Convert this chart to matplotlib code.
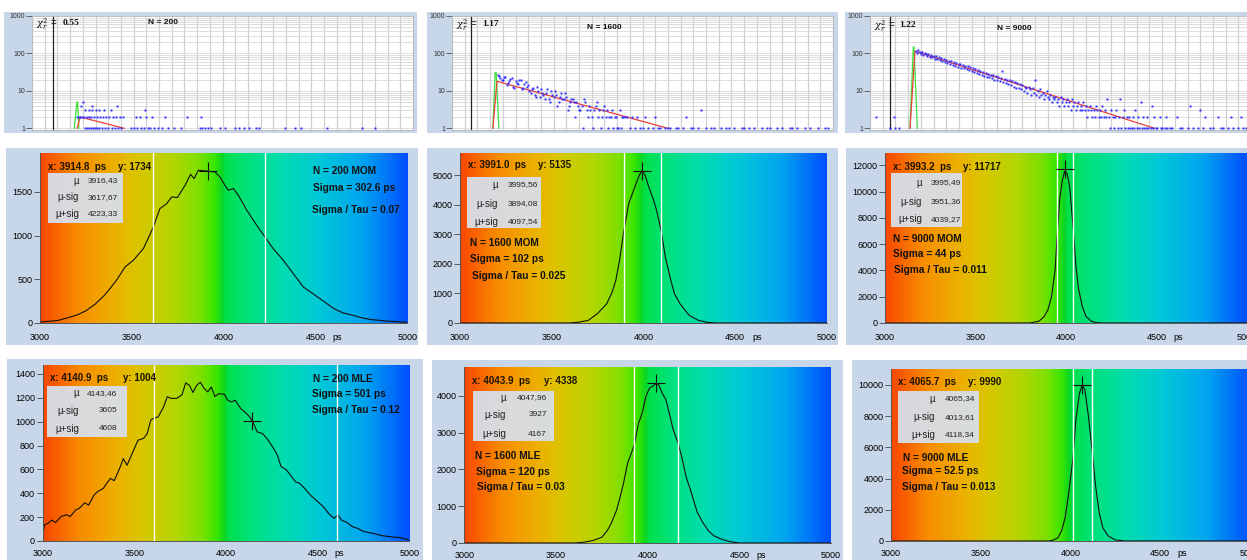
import numpy as np
import matplotlib.pyplot as plt
from matplotlib.colors import LinearSegmentedColormap
from matplotlib.patches import Rectangle
from matplotlib.ticker import LogLocator, NullFormatter

W, H = 1247, 560
plt.rcParams['font.family'] = ['Liberation Sans', 'DejaVu Sans']
plt.rcParams['mathtext.fontset'] = 'dejavuserif'

# ---------------- top row: decay histograms (x = channel, y = counts) ----------------

# N = 200, channels grouped by count level
d200_x5 = [40.5]
d200_x4 = [38.5, 47.5, 67]
d200_x3 = [42, 44.5, 47, 50, 53, 57, 62, 89]
d200_x2 = [35.5, 37, 38, 39.5, 41, 43, 45, 46.5, 48.5, 51, 53.5, 56, 58.5, 61, 64, 66, 69,
           71.5, 82, 85, 90, 94.5, 104.5, 122, 133]
d200_x1 = [42, 43.5, 45, 46.5, 48, 49.5, 51, 53, 55, 57.5, 60, 63, 65, 68, 70, 78, 80.5, 83,
           86, 88, 91, 93, 96, 99, 102, 107, 112, 117, 132, 134, 136, 138.5, 141, 148, 152,
           160, 163, 167, 171, 176, 179, 199, 207, 212, 232, 260, 270]
fit200_x = [35.5, 38, 72.6]
fit200_y = [1, 2, 1]
irf200_x = [33.3, 35.4, 35.9, 36.9]
irf200_y = [1, 5, 5, 1]

# N = 1600, even channels 36..298 and odd channels 37..135
d1600_even = [27, 22, 20, 24, 16, 21, 13, 18, 15, 20, 12, 17, 14,
              9, 12, 7, 10, 11, 8, 9, 6, 10, 7, 8, 5, 9, 6, 7, 4, 6, 5,
              5, 3, 4, 6, 3, 4, 2, 3, 5, 3, 2, 4, 3, 2, 3, 2, 1, 3, 2, 2,
              2, 1, 2, 1, 2, 1, 1, 2, 1, 0, 1, 2, 1, 1, 0, 1, 1,
              1, 0, 1, 1, 0, 1, 2, 0, 1, 1, 0, 1, 3, 0, 1, 0, 1, 1, 0, 0, 1, 0, 1, 1, 0, 1, 0, 0,
              1, 1, 0, 1, 0, 1, 0, 0, 1, 0, 1, 1, 0, 0, 1, 0, 1, 0, 0, 1, 1, 0, 1, 0, 0, 1, 0, 1,
              0, 0, 1, 0, 0, 1, 1, 0]
d1600_odd = [25, 19, 23, 14, 18, 22, 12, 16, 19, 11, 15, 13, 10,
             11, 8, 13, 7, 9, 6, 11, 5, 8, 10, 4, 7, 6, 9, 3, 5, 6,
             2, 4, 3, 1, 5, 2, 3, 1, 4, 2, 1, 3, 2, 1, 2, 1, 2, 1, 1, 2]
fit1600_x = [32.2, 35.4, 170]
fit1600_y = [1, 18, 1]
irf1600_x = [32.2, 34.0, 34.8, 36.9]
irf1600_y = [1, 31, 31, 1]

# N = 9000, channels 36..235 then every second channel 236..298
d9000_pre_x = [5, 16, 19, 20, 23]
d9000_pre_y = [2, 1, 2, 1, 1]
d9000_main = [118, 104, 126, 109, 97, 112, 92, 105, 99, 88,
              95, 80, 92, 78, 86, 72, 83, 70, 79, 66,
              74, 62, 70, 58, 67, 56, 64, 52, 61, 50,
              58, 47, 55, 44, 53, 51, 42, 49, 40, 46,
              38, 45, 36, 43, 34, 40, 32, 39, 30, 36,
              29, 34, 27, 32, 25, 30, 24, 29, 23, 27,
              22, 26, 20, 25, 19, 24, 18, 22, 35, 17,
              21, 16, 20, 15, 19, 14, 18, 13, 17, 12,
              16, 12, 15, 11, 14, 10, 13, 12, 9, 13,
              11, 8, 12, 9, 20, 8, 10, 7, 11, 8,
              9, 6, 8, 10, 7, 6, 8, 5, 7, 6,
              7, 5, 6, 4, 7, 5, 6, 4, 5, 6,
              4, 5, 3, 6, 4, 5, 3, 4, 5, 3,
              4, 3, 5, 3, 4, 2, 3, 4, 3, 2,
              3, 2, 4, 3, 2, 3, 2, 4, 2, 3,
              2, 6, 2, 1, 3, 2, 1, 2, 3, 1,
              2, 6, 1, 2, 3, 1, 2, 1, 2, 1,
              1, 2, 1, 3, 1, 2, 1, 5, 1, 2,
              1, 1, 2, 1, 0, 1, 4, 1, 2, 1,
              1, 0, 2, 1, 1, 0, 1, 2, 1, 0]
d9000_tail = [1, 1, 0, 2, 1, 1, 0, 1, 4, 1, 0, 1, 3, 1, 2, 0,
              1, 1, 0, 2, 1, 1, 0, 1, 2, 1, 0, 1, 2, 1, 1, 0]
fit9000_x = [31.5, 35.4, 224]
fit9000_y = [1, 115, 1]
irf9000_x = [31.5, 34.1, 34.6, 37.3]
irf9000_y = [1, 150, 150, 1]

# ---------------- middle / bottom rows: lifetime distributions (ps) ----------------
mom200_t = [3000, 3100, 3200, 3250, 3300, 3350, 3381, 3420, 3463, 3508, 3563, 3617, 3653, 3690,
            3717, 3748, 3790, 3820, 3839, 3862, 3908, 3953, 3980, 4007, 4025, 4053, 4080, 4126,
            4180, 4225, 4270, 4325, 4379, 4434, 4500, 4550, 4600, 4650, 4700, 4750, 4800, 4850,
            4900, 5000]
mom200_c = [10, 30, 90, 140, 215, 315, 393, 500, 641, 717, 851, 1098, 1309, 1366,
            1442, 1435, 1576, 1701, 1652, 1747, 1739, 1728, 1670, 1576, 1518, 1538, 1461, 1290,
            1118, 984, 851, 717, 565, 412, 315, 240, 165, 115, 90, 60, 40, 30,
            20, 8]

mom1600_t = [3000, 3600, 3650, 3700, 3750, 3800, 3830, 3850, 3870, 3894, 3920, 3950, 3970, 3991,
             4010, 4030, 4050, 4070, 4097, 4120, 4150, 4170, 4200, 4250, 4300, 4350, 4400, 5000]
mom1600_c = [0, 0, 30, 90, 320, 650, 1050, 1450, 2120, 3140, 4040, 4550, 4890, 5170,
             5000, 4600, 4270, 3870, 3140, 2230, 1440, 990, 650, 260, 90, 20, 0, 0]

mom9000_t = [3000, 3800, 3850, 3880, 3900, 3920, 3940, 3951, 3965, 3980, 3993, 4005, 4020, 4039,
             4055, 4070, 4090, 4110, 4140, 4170, 4200, 5000]
mom9000_c = [0, 0, 130, 500, 1000, 2000, 4060, 6600, 9400, 10900, 11550, 11420, 10400, 7360,
             4300, 2540, 1270, 510, 130, 25, 0, 0]

mle200_t = [3000, 3010, 3030, 3050, 3070, 3100, 3130, 3150, 3180, 3200, 3230, 3250, 3280, 3300,
            3330, 3350, 3370, 3390, 3420, 3440, 3460, 3480, 3500, 3520, 3550, 3570, 3590, 3610,
            3630, 3660, 3680, 3700, 3730, 3760, 3780, 3800, 3820, 3840, 3860, 3880, 3900, 3920,
            3940, 3960, 3990, 4010, 4030, 4050, 4080, 4100, 4130, 4150, 4170, 4200, 4230, 4260,
            4280, 4300, 4330, 4350, 4380, 4400, 4430, 4460, 4500, 4530, 4560, 4590, 4610, 4630,
            4660, 4690, 4720, 4750, 4800, 4850, 4900, 4950, 5000]
mle200_c = [50, 135, 150, 175, 155, 205, 220, 205, 260, 275, 320, 300, 385, 415,
            440, 485, 525, 505, 610, 690, 635, 705, 775, 845, 860, 900, 1015, 1030,
            1040, 1125, 1210, 1195, 1195, 1225, 1325, 1305, 1245, 1305, 1330, 1280, 1250, 1290,
            1210, 1235, 1230, 1180, 1165, 1180, 1110, 1085, 1040, 985, 915, 900, 845, 775,
            720, 625, 595, 555, 495, 485, 440, 385, 330, 290, 230, 190, 220, 175,
            155, 120, 105, 80, 65, 45, 35, 28, 8]

mle1600_t = [3000, 3600, 3650, 3700, 3750, 3780, 3800, 3830, 3850, 3870, 3890, 3910, 3927, 3950,
             3970, 3990, 4010, 4030, 4044, 4060, 4080, 4100, 4120, 4140, 4167, 4190, 4210, 4240,
             4270, 4300, 4330, 4360, 4400, 4450, 4500, 5000]
mle1600_c = [0, 0, 20, 65, 155, 340, 520, 885, 1250, 1660, 2160, 2430, 2660, 3250,
             3530, 3980, 4210, 4270, 4330, 4300, 4070, 3890, 3480, 3070, 2710, 2250, 1795, 1340,
             840, 565, 340, 200, 110, 35, 0, 0]

mle9000_t = [3000, 3880, 3900, 3930, 3950, 3970, 3990, 4013, 4030, 4050, 4066, 4080, 4100, 4118,
             4140, 4160, 4180, 4210, 4250, 4300, 5000]
mle9000_c = [0, 0, 40, 210, 640, 1490, 3085, 5210, 7770, 9470, 10000, 9680, 7980, 6060,
             3510, 1810, 850, 320, 65, 0, 0]

info_labels = ['µ', 'µ-sig', 'µ+sig']

# ---------------- layout helpers (pixel coordinates, origin top-left) ----------------
fig = plt.figure(figsize=(W / 100, H / 100), dpi=100)
fig.patch.set_facecolor('white')


def frac_rect(x0, y0, x1, y1):
    return [x0 / W, 1 - y1 / H, (x1 - x0) / W, (y1 - y0) / H]


def ftext(x, y, s, **kw):
    kw.setdefault('va', 'center')
    fig.text(x / W, 1 - y / H, s, **kw)


def fbox(x0, y0, x1, y1, color, z, alpha=1.0):
    fig.add_artist(Rectangle((x0 / W, 1 - y1 / H), (x1 - x0) / W, (y1 - y0) / H,
                             transform=fig.transFigure, facecolor=color, edgecolor='none',
                             zorder=z, alpha=alpha))


frame_col = '#c8d6e9'
for fr in [(4, 12, 417, 133), (427, 12, 838, 133), (845, 12, 1247, 133),
           (6, 148, 418, 345), (427, 148, 838, 345), (846, 148, 1247, 345),
           (7, 359, 423, 560), (432, 360, 843, 560), (852, 360, 1247, 560)]:
    fbox(*fr, frame_col, -10)

tau_cmap = LinearSegmentedColormap.from_list('tau', [
    (0.00, '#f84800'), (0.10, '#f88c00'), (0.20, '#ecb000'), (0.26, '#dcc400'),
    (0.36, '#b4d600'), (0.43, '#80e000'), (0.475, '#38e600'), (0.497, '#08d428'),
    (0.503, '#00e048'), (0.56, '#00e27a'), (0.66, '#00dcb0'), (0.76, '#00c8d8'),
    (0.88, '#00a4f0'), (1.00, '#0050ff')])
grad_row = np.linspace(0, 1, 600).reshape(1, -1)


def decay_panel(rect, xs, ys, fx, fy, gx, gy, mark):
    ax = fig.add_axes(frac_rect(*rect))
    ax.set_facecolor('white')
    ax.set_yscale('log')
    ax.set_xlim(0, 300)
    ax.set_ylim(0.93, 1000)
    ax.set_xticks(np.arange(0, 301, 10))
    ax.tick_params(axis='x', length=0, labelbottom=False)
    ax.set_yticks([1, 10, 100, 1000], ['1', '10', '100', '1000'])
    ax.yaxis.set_minor_locator(LogLocator(base=10, subs=np.arange(2, 10)))
    ax.yaxis.set_minor_formatter(NullFormatter())
    ax.tick_params(axis='y', which='major', length=4, width=0.6, labelsize=5, pad=1,
                   color='#555555', labelcolor='#333333')
    ax.tick_params(axis='y', which='minor', length=0)
    ax.grid(True, axis='x', color='#d0d0d0', lw=0.9)
    ax.grid(True, axis='y', which='both', color='#d8d8d8', lw=0.6)
    for s in ax.spines.values():
        s.set_color('#b8b8b8')
        s.set_linewidth(0.6)
    ax.axvline(mark, color='#222222', lw=0.9)
    ax.plot(gx, gy, color='#3ee03e', lw=0.9)
    ax.plot(fx, fy, color='#e8403c', lw=0.9)
    xs = np.asarray(xs, dtype=float)
    ys = np.asarray(ys, dtype=float)
    keep = ys > 0
    ax.plot(xs[keep], ys[keep], 's', ms=1.4, color='#2a2aff', mew=0, clip_on=False)
    return ax


def dist_panel(rect, t, c, ymax, yticks, lo, hi, cx, cy, pad):
    ax = fig.add_axes(frac_rect(*rect))
    ax.imshow(grad_row, extent=[3000, 5000, 0, ymax], aspect='auto', cmap=tau_cmap,
              interpolation='bilinear', zorder=0)
    ax.plot(t, c, color='#111111', lw=0.8, zorder=2)
    ax.axvline(lo, color='white', lw=1.0, zorder=3)
    ax.axvline(hi, color='white', lw=1.0, zorder=3)
    ax.plot([cx], [cy], marker='+', ms=13, mew=0.8, color='#111111', zorder=4)
    ax.set_xlim(3000, 5000)
    ax.set_ylim(0, ymax)
    ax.set_xticks([3000, 3500, 4000, 4500, 5000])
    ax.set_yticks(yticks)
    ax.tick_params(axis='y', length=4, width=0.6, labelsize=6.5, pad=1.5, color='#444444')
    ax.tick_params(axis='x', length=0, labelsize=6.5, pad=pad)
    for s in ['top', 'right']:
        ax.spines[s].set_visible(False)
    for s in ['left', 'bottom']:
        ax.spines[s].set_color('#555555')
        ax.spines[s].set_linewidth(0.7)
    ax.annotate('ps', xy=(4620, 0), xycoords=('data', 'axes fraction'), xytext=(0, -pad),
                textcoords='offset points', ha='center', va='top', fontsize=6.5)
    return ax


def readout(xy, box, rows, lab_r, val_r, values, notes):
    (xs, xx, yy), (ys_txt, yx) = xy
    ftext(xx, yy, xs, fontsize=7, fontweight='bold', color='#1a1200')
    ftext(yx, yy, ys_txt, fontsize=7, fontweight='bold', color='#1a1200')
    fbox(*box, '#d8dee9', 2, alpha=0.95)
    for lab, val, ry in zip(info_labels, values, rows):
        ftext(lab_r, ry, lab, fontsize=7, ha='right', color='#222222', zorder=4)
        ftext(val_r, ry, val, fontsize=6, ha='right', color='#222222', zorder=4)
    for s, nx, ny in notes:
        ftext(nx, ny, s, fontsize=7.3, fontweight='bold', color='#111111')


# ---------------- top row ----------------
p1_x = d200_x5 + d200_x4 + d200_x3 + d200_x2 + d200_x1
p1_y = [5] * len(d200_x5) + [4] * len(d200_x4) + [3] * len(d200_x3) + \
       [2] * len(d200_x2) + [1] * len(d200_x1)
decay_panel((32, 16, 413, 129.5), p1_x, p1_y, fit200_x, fit200_y, irf200_x, irf200_y, 16.5)

p2_x = list(np.arange(36, 36 + 2 * len(d1600_even), 2)) + list(np.arange(37, 37 + 2 * len(d1600_odd), 2))
p2_y = d1600_even + d1600_odd
decay_panel((452, 16, 833, 129.5), p2_x, p2_y, fit1600_x, fit1600_y, irf1600_x, irf1600_y, 15.2)

p3_x = d9000_pre_x + list(np.arange(36, 36 + len(d9000_main))) + \
       list(np.arange(236, 236 + 2 * len(d9000_tail), 2))
p3_y = d9000_pre_y + d9000_main + d9000_tail
decay_panel((870, 16, 1251, 129.5), p3_x, p3_y, fit9000_x, fit9000_y, irf9000_x, irf9000_y, 15.7)

for cx, vx, nx, vy, ny, chi, nlab in [(36, 63, 148, 23, 23, '0.55', 'N = 200'),
                                      (456, 482, 587, 24, 27.5, '1.17', 'N = 1600'),
                                      (874, 899, 997, 25, 29, '1.22', 'N = 9000')]:
    ftext(cx, vy + 1, r'$\chi^2_r$ =', fontsize=7, color='#111111')
    ftext(vx, vy, chi, fontsize=6.8, fontweight='bold', family='Liberation Serif', color='#111111')
    ftext(nx, ny, nlab, fontsize=6, fontweight='bold', color='#111111')

# ---------------- middle row (MOM) ----------------
dist_panel((40, 153, 407.3, 323), mom200_t, mom200_c, 1945, [0, 500, 1000, 1500],
           3617.67, 4223.33, 3914.8, 1734, 7)
readout((('x: 3914.8  ps', 48, 166.7), ('y: 1734', 118)), (48, 173, 123, 223),
        (180.7, 197.3, 214), 79, 118.3, ['3916,43', '3617,67', '4223,33'],
        [('N = 200 MOM', 313, 170.7), ('Sigma = 302.6 ps', 313, 188.3),
         ('Sigma / Tau = 0.07', 312, 210)])

dist_panel((460, 153, 826.7, 323), mom1600_t, mom1600_c, 5760, [0, 1000, 2000, 3000, 4000, 5000],
           3894.08, 4097.54, 3991.0, 5135, 7)
readout((('x: 3991.0  ps', 468, 165), ('y: 5135', 538)), (467, 177, 541, 228),
        (185, 204, 221.7), 498, 538, ['3995,56', '3894,08', '4097,54'],
        [('N = 1600 MOM', 470, 243.3), ('Sigma = 102 ps', 470, 259),
         ('Sigma / Tau = 0.025', 472, 276)])

dist_panel((885, 153, 1247, 323), mom9000_t, mom9000_c, 12940, [0, 2000, 4000, 6000, 8000, 10000, 12000],
           3951.36, 4039.27, 3993.2, 11717, 7)
readout((('x: 3993.2  ps', 893, 166.7), ('y: 11717', 963)), (891, 173, 962, 227),
        (182.7, 201.7, 219.3), 922, 960.7, ['3995,49', '3951,36', '4039,27'],
        [('N = 9000 MOM', 893, 239), ('Sigma = 44 ps', 893, 254.3),
         ('Sigma / Tau = 0.011', 894, 270)])

# ---------------- bottom row (MLE) ----------------
dist_panel((42.7, 365, 409.3, 541), mle200_t, mle200_c, 1475, [0, 200, 400, 600, 800, 1000, 1200, 1400],
           3605, 4608, 4140.9, 1004, 6)
readout((('x: 4140.9  ps', 50, 378.3), ('y: 1004', 123)), (47, 386, 127, 437),
        (393.3, 411, 429), 79, 117, ['4143,46', '3605', '4608'],
        [('N = 200 MLE', 313, 379), ('Sigma = 501 ps', 312, 394.3),
         ('Sigma / Tau = 0.12', 312, 410)])

dist_panel((464.3, 367, 831, 543), mle1600_t, mle1600_c, 4785, [0, 1000, 2000, 3000, 4000],
           3927, 4167, 4043.9, 4338, 6)
readout((('x: 4043.9  ps', 472, 380.7), ('y: 4338', 544)), (473, 391, 554, 441),
        (397.7, 415, 434), 506, 546.7, ['4047,96', '3927', '4167'],
        [('N = 1600 MLE', 475, 456), ('Sigma = 120 ps', 476, 472.3),
         ('Sigma / Tau = 0.03', 477, 487.3)])

dist_panel((891, 369, 1250, 541), mle9000_t, mle9000_c, 11020, [0, 2000, 4000, 6000, 8000, 10000],
           4013.61, 4118.34, 4065.7, 9990, 6)
readout((('x: 4065.7  ps', 898, 382.3), ('y: 9990', 968)), (898, 391, 979, 443),
        (399, 417.3, 435), 935, 975, ['4065,34', '4013,61', '4118,34'],
        [('N = 9000 MLE', 903, 458.3), ('Sigma = 52.5 ps', 902, 470.7),
         ('Sigma / Tau = 0.013', 902, 487.3)])

fig.savefig('out.png', dpi=100)
